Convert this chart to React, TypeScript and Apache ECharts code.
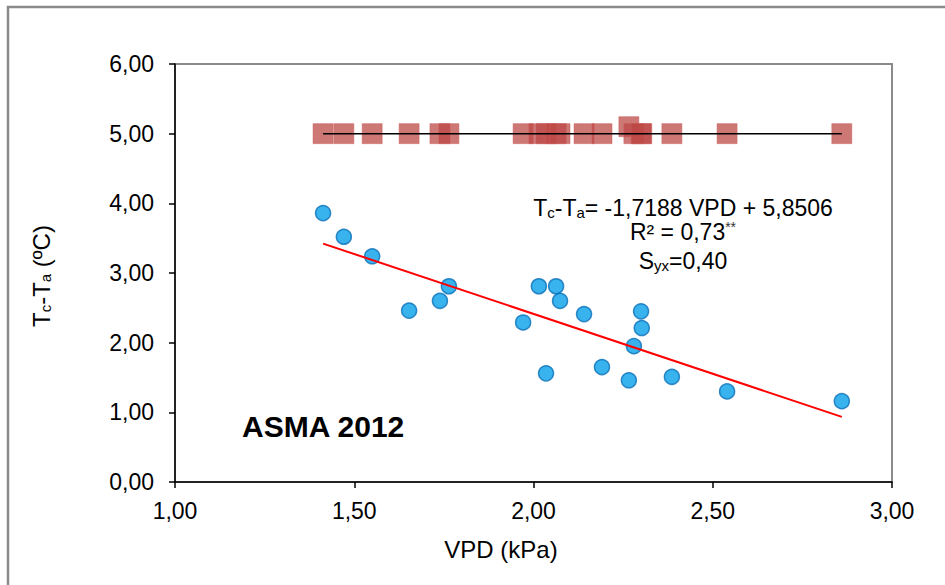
import React, { useEffect, useRef } from "react";
import * as echarts from "echarts";

const vpd = [1.413, 1.471, 1.55, 1.653, 1.739, 1.764, 1.971, 2.015, 2.035, 2.063, 2.074, 2.141, 2.191, 2.266, 2.28, 2.3, 2.302, 2.386, 2.54, 2.86];
const tcta = [3.86, 3.52, 3.24, 2.46, 2.6, 2.81, 2.29, 2.81, 1.56, 2.81, 2.6, 2.41, 1.65, 1.46, 1.95, 2.45, 2.21, 1.51, 1.3, 1.16];
const upper = [5, 5, 5, 5, 5, 5, 5, 5, 5, 5, 5, 5, 5, 5.1, 5, 5, 5, 5, 5, 5];
const slope = -1.7188;
const intercept = 5.8506;
const upperLevel = 5;
const xTicks = { min: 1, max: 3, interval: 0.5 };
const yTicks = { min: 0, max: 6, interval: 1 };

const FONT = "'Liberation Sans', Arial, sans-serif";
const fmt = (v: number) => v.toFixed(2).replace(".", ",");

export default function App() {
  const ref = useRef<HTMLDivElement>(null);
  useEffect(() => {
    if (!ref.current) return;
    const chart = echarts.init(ref.current, null, { renderer: "svg" });
    const xMin = Math.min(...vpd);
    const xMax = Math.max(...vpd);
    const main = { fontSize: 23, fontFamily: FONT, fill: "#000", verticalAlign: "top", lineHeight: 22 };
    const sub = { fontSize: 15, fontFamily: FONT, fill: "#000", verticalAlign: "top", lineHeight: 14, padding: [9, 0, 0, 0] };
    const option: any = {
      animation: false,
      backgroundColor: "#ffffff",
      textStyle: { fontFamily: FONT },
      grid: {
        left: 175,
        top: 64,
        right: 53,
        bottom: 103,
        show: true,
        borderColor: "#8a8a8a",
        borderWidth: 2,
        backgroundColor: "transparent",
      },
      xAxis: {
        type: "value",
        min: xTicks.min,
        max: xTicks.max,
        interval: xTicks.interval,
        splitLine: { show: false },
        axisLine: { show: true, onZero: false, lineStyle: { color: "#000", width: 1.5 } },
        axisTick: { show: true, inside: false, length: 6, lineStyle: { color: "#000", width: 1.5 } },
        axisLabel: { formatter: fmt, color: "#000", fontSize: 23, margin: 17, fontFamily: FONT },
      },
      yAxis: {
        type: "value",
        min: yTicks.min,
        max: yTicks.max,
        interval: yTicks.interval,
        splitLine: { show: false },
        axisLine: { show: true, onZero: false, lineStyle: { color: "#000", width: 1.5 } },
        axisTick: { show: true, inside: false, length: 6, lineStyle: { color: "#000", width: 1.5 } },
        axisLabel: { formatter: fmt, color: "#000", fontSize: 23, margin: 21, fontFamily: FONT },
      },
      series: [
        {
          type: "scatter",
          data: vpd.map((x, i) => [x, upper[i]]),
          symbol: "rect",
          symbolSize: 20,
          itemStyle: { color: "rgba(188,72,69,0.92)", borderColor: "rgba(200,90,87,0.6)", borderWidth: 1 },
          z: 2,
        },
        {
          type: "line",
          data: [[xMin, upperLevel], [xMax, upperLevel]],
          symbol: "none",
          lineStyle: { color: "#000", width: 1.5 },
          z: 3,
        },
        {
          type: "scatter",
          data: vpd.map((x, i) => [x, tcta[i]]),
          symbol: "circle",
          symbolSize: 15,
          itemStyle: { color: "#08A0E8", borderColor: "#0A6FB8", borderWidth: 1.5 },
          z: 4,
        },
        {
          type: "line",
          data: [[xMin, slope * xMin + intercept], [xMax, slope * xMax + intercept]],
          symbol: "none",
          lineStyle: { color: "#FF0000", width: 2 },
          z: 5,
        },
      ],
      graphic: [
        {
          type: "rect",
          shape: { x: 8, y: 7, width: 1200, height: 1200 },
          style: { fill: "none", stroke: "#8a8a8a", lineWidth: 2.5 },
          silent: true,
        },
        {
          type: "text",
          x: 40,
          y: 276,
          rotation: Math.PI / 2,
          style: {
            text: "{n|T}{s|c}{n|-T}{s|a}{n| (ºC)}",
            align: "center",
            verticalAlign: "middle",
            rich: {
              n: { ...main, fontSize: 24 },
              s: sub,
            },
          },
        },
        {
          type: "text",
          x: 501,
          y: 549,
          style: { text: "VPD (kPa)", fontSize: 24, fontFamily: FONT, fill: "#000", align: "center", verticalAlign: "middle" },
        },
        {
          type: "text",
          x: 242,
          y: 426,
          style: { text: "ASMA 2012", fontSize: 30, fontWeight: "bold", fontFamily: FONT, fill: "#000", align: "left", verticalAlign: "middle" },
        },
        {
          type: "text",
          x: 683,
          y: 207,
          style: {
            text: "{n|T}{s|c}{n|-T}{s|a}{n|= -1,7188 VPD + 5,8506}",
            align: "center",
            verticalAlign: "middle",
            rich: { n: main, s: sub },
          },
        },
        {
          type: "text",
          x: 683,
          y: 231,
          style: {
            text: "{n|R² = 0,73}{p|**}",
            align: "center",
            verticalAlign: "middle",
            rich: {
              n: main,
              p: { fontSize: 14, fontFamily: FONT, fill: "#333", verticalAlign: "top", lineHeight: 14 },
            },
          },
        },
        {
          type: "text",
          x: 683,
          y: 260,
          style: {
            text: "{n|S}{s|yx}{n|=0,40}",
            align: "center",
            verticalAlign: "middle",
            rich: { n: main, s: sub },
          },
        },
      ],
    };
    chart.setOption(option);
    return () => chart.dispose();
  }, []);
  return <div ref={ref} style={{ position: "absolute", left: 0, top: 0, width: 945, height: 585 }} />;
}
